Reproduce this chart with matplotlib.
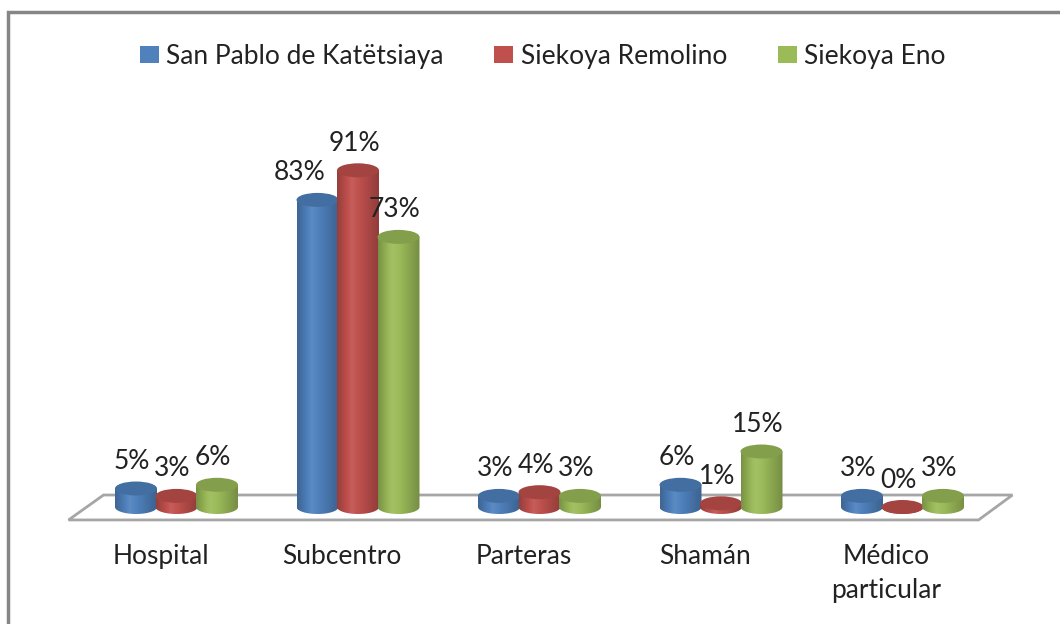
import numpy as np
import matplotlib
matplotlib.use("Agg")
from matplotlib import pyplot as plt
from matplotlib.patches import Polygon, Ellipse, Patch, Rectangle
from matplotlib.colors import to_rgb

plt.rcParams['font.family'] = ['Lato', 'DejaVu Sans']

# datos
categorias = ['Hospital', 'Subcentro', 'Parteras', 'Shamán', 'Médico\nparticular']
series = ['San Pablo de Katëtsiaya', 'Siekoya Remolino', 'Siekoya Eno']
san_pablo = [5, 83, 3, 6, 3]
remolino = [3, 91, 4, 1, 0]
eno = [6, 73, 3, 15, 3]
valores = [san_pablo, remolino, eno]

colores = ['#4F81BD', '#C0504D', '#9BBB59']
# pequeño ajuste horizontal de etiquetas (px) como en el original
ajuste_etq = {(0, 1): -18}

W, H = 1060, 624
fig = plt.figure(figsize=(W / 100, H / 100), dpi=100)
ax = fig.add_axes([0, 0, 1, 1])
ax.axis('off')

px_x = 181.5   # px por categoria
px_y = 3.7     # px por %
x0_px, y0_px = 176.5, 507
xlim = (-x0_px / px_x, (W - x0_px) / px_x)
ylim = (-(H - y0_px) / px_y, y0_px / px_y)

def mezcla(c, f):
    c = np.array(to_rgb(c))
    if f < 1:
        return c * f
    return c + (1 - c) * (f - 1)

# piso
piso = Polygon([(-0.595, -3.5), (4.419, -3.5), (4.606, 3.24), (-0.402, 3.24)],
               closed=True, facecolor='white', edgecolor='#A6A6A6', lw=2, zorder=1)
ax.add_patch(piso)

w = 42 / px_x
h = 7 / px_y
dx = 40.5 / px_x
z = 2
for i in range(len(categorias)):
    for j in range(3):
        v = valores[j][i]
        xc = i + (j - 1) * dx
        c = colores[j]
        # cuerpo con degradado
        t = np.linspace(np.pi, 2 * np.pi, 40)
        pts = [(xc - w / 2, v)] + [(xc + w / 2 * np.cos(a), h * np.sin(a)) for a in t] + [(xc + w / 2, v)]
        cuerpo = Polygon(pts, closed=True, facecolor='none', edgecolor='none',
                         transform=ax.transData, zorder=z)
        ax.add_patch(cuerpo)
        s = np.linspace(0, 1, 64)
        f = np.interp(s, [0, 0.35, 1], [0.78, 1.08, 0.76])
        grad = np.array([[mezcla(c, k) for k in f]])
        grad = np.clip(grad, 0, 1)
        im = ax.imshow(grad, extent=[xc - w / 2, xc + w / 2, -h, v], aspect='auto',
                       interpolation='bicubic', zorder=z)
        im.set_clip_path(cuerpo)
        # tapa
        tapa = Ellipse((xc, v), w, 2 * h, facecolor=mezcla(c, 0.85), edgecolor='none', zorder=z + 0.5)
        ax.add_patch(tapa)
        z += 1
        # etiqueta
        nx = ajuste_etq.get((j, i), -4)
        ax.annotate(f'{v}%', (xc, v), xytext=(nx * 0.72, 27 * 0.72), textcoords='offset points',
                    ha='center', va='center', fontsize=19, color='#222222', zorder=50)

for i, cat in enumerate(categorias):
    ax.annotate(cat, (i, 0), xytext=(-16 * 0.72, -37 * 0.72), textcoords='offset points',
                ha='center', va='top', fontsize=19, color='#222222', linespacing=1.45)

ax.set_xlim(*xlim)
ax.set_ylim(*ylim)

# borde del gráfico
fig.patches.append(Rectangle((8 / W, -0.1), 1.2, 1.1 - 12 / H, transform=fig.transFigure,
                             facecolor='none', edgecolor='#868686', lw=2.5))

handles = [Patch(facecolor=c, edgecolor='none') for c in colores]
fig.legend(handles, series, loc='center', bbox_to_anchor=(0.512, 0.91), ncol=3,
           frameon=False, fontsize=19, handlelength=0.72, handleheight=0.58,
           handletextpad=0.3, columnspacing=1.9, labelcolor='#222222')

fig.savefig('out.png', dpi=100)
